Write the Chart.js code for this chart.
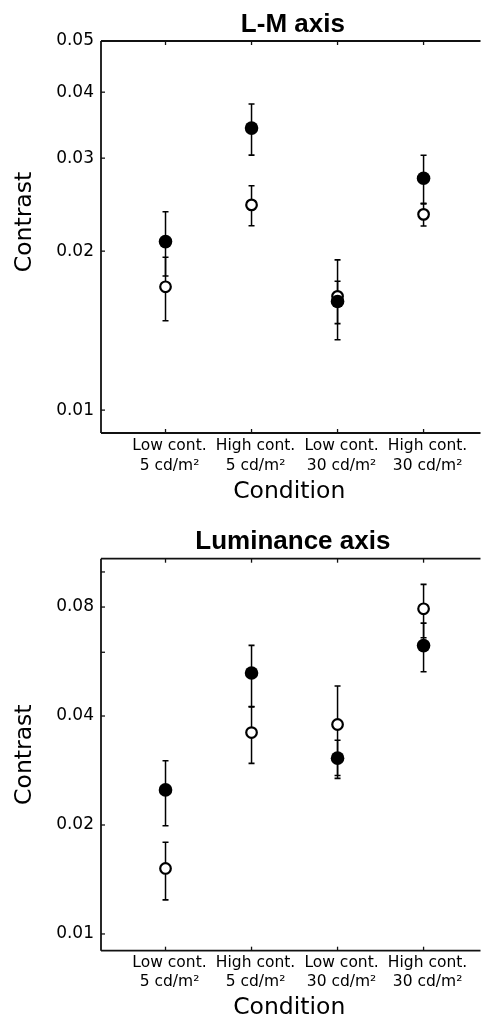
<!DOCTYPE html>
<html><head><meta charset="utf-8">
<script src="https://cdn.jsdelivr.net/npm/chart.js@4.4.0/dist/chart.umd.min.js"></script>
<style>
html,body{margin:0;padding:0;background:#fff;overflow:hidden;}
#c1{position:absolute;left:0;top:0;width:485px;height:506px;}
#c2{position:absolute;left:0;top:510px;width:485px;height:509px;}
</style></head><body>
<canvas id="c1" width="485" height="506"></canvas>
<canvas id="c2" width="485" height="509"></canvas>
<script>
// ---- data ----
const categories = [["Low cont.","5 cd/m²"],["High cont.","5 cd/m²"],["Low cont.","30 cd/m²"],["High cont.","30 cd/m²"]];
const catPositions = [1,2,3,4];

// L-M axis panel
const lmFilled    = [0.02085, 0.0342, 0.01606, 0.02748];
const lmFilledErr = [0.0029, 0.0038, 0.00148, 0.0029];
const lmOpen      = [0.01712, 0.02447, 0.01642, 0.02348];
const lmOpenErr   = [0.00236, 0.00213, 0.00283, 0.00117];
const lmTicks      = [0.01, 0.02, 0.03, 0.04, 0.05];
const lmTickLabels = ["0.01", "0.02", "0.03", "0.04", "0.05"];

// Luminance axis panel
const lumFilled    = [0.0250, 0.0526, 0.0306, 0.0626];
const lumFilledErr = [0.0051, 0.0101, 0.0037, 0.0096];
const lumOpen      = [0.01517, 0.0360, 0.0379, 0.0791];
const lumOpenErr   = [0.00275, 0.0064, 0.0105, 0.0133];
const lumTicks      = [0.01, 0.02, 0.04, 0.06, 0.08, 0.1];
const lumTickLabels = ["0.01", "0.02", "0.04", "", "0.08", ""];

// ---- rendering ----
const FONT = "'DejaVu Sans', sans-serif";
const TFONT = "'Liberation Sans', Arial, sans-serif";

const decor = {
  id: 'decor',
  beforeDatasetsDraw(chart) {
    const {ctx, scales: {x, y}} = chart;
    ctx.save(); ctx.strokeStyle = '#000';
    chart.data.datasets.forEach(ds => {
      ds.data.forEach((p, i) => {
        const e = ds.errors[i];
        const px = x.getPixelForValue(p.x);
        const y1 = y.getPixelForValue(p.y + e), y2 = y.getPixelForValue(p.y - e);
        ctx.lineWidth = 1.5;
        ctx.beginPath(); ctx.moveTo(px, y1); ctx.lineTo(px, y2); ctx.stroke();
        ctx.lineWidth = 1.6;
        ctx.beginPath();
        ctx.moveTo(px - 3, y1); ctx.lineTo(px + 3, y1);
        ctx.moveTo(px - 3, y2); ctx.lineTo(px + 3, y2);
        ctx.stroke();
      });
    });
    ctx.restore();
  },
  afterDraw(chart) {
    const {ctx, chartArea: a, scales: {x, y}} = chart;
    ctx.save(); ctx.strokeStyle = '#111'; ctx.lineWidth = 1.8;
    ctx.beginPath(); ctx.moveTo(a.right + 3, a.top); ctx.lineTo(a.left, a.top); ctx.stroke();
    ctx.beginPath(); ctx.moveTo(a.left, a.top); ctx.lineTo(a.left, a.bottom); ctx.stroke();
    ctx.beginPath(); ctx.moveTo(a.left, a.bottom); ctx.lineTo(a.right + 3, a.bottom); ctx.stroke();
    ctx.lineWidth = 1.3;
    x.ticks.forEach(t => {
      const px = x.getPixelForValue(t.value);
      ctx.beginPath(); ctx.moveTo(px, a.bottom); ctx.lineTo(px, a.bottom - 4); ctx.stroke();
      ctx.beginPath(); ctx.moveTo(px, a.top); ctx.lineTo(px, a.top + 4); ctx.stroke();
    });
    y.ticks.forEach(t => {
      const py = y.getPixelForValue(t.value);
      ctx.beginPath(); ctx.moveTo(a.left, py); ctx.lineTo(a.left + 4, py); ctx.stroke();
    });
    ctx.restore();
  }
};

function build(id, o) {
  new Chart(document.getElementById(id), {
    type: 'scatter',
    data: { datasets: [
      { label: 'filled', data: o.filled.map((v, i) => ({x: catPositions[i], y: v})), errors: o.filledErr,
        pointStyle: 'circle', pointRadius: 6.8, pointBorderWidth: 0, pointBackgroundColor: '#000', pointBorderColor: '#000' },
      { label: 'open', data: o.open.map((v, i) => ({x: catPositions[i], y: v})), errors: o.openErr,
        pointStyle: 'circle', pointRadius: 5.3, pointBorderWidth: 2.2, pointBackgroundColor: '#fff', pointBorderColor: '#000' } ] },
    options: {
      responsive: false, animation: false, devicePixelRatio: 1, events: [],
      layout: { padding: 0 },
      plugins: {
        legend: { display: false }, tooltip: { enabled: false },
        title: { display: true, fullSize: false, text: o.title, color: '#000',
          font: { family: TFONT, size: 26, weight: 'bold', lineHeight: 1.2 }, padding: o.titlePad }
      },
      scales: {
        x: { type: 'linear', min: 0.25, max: 4.627,
          afterBuildTicks: s => { s.ticks = catPositions.map(v => ({value: v})); },
          afterFit: s => { s.height = o.xHeight; s.paddingLeft = 0; s.paddingRight = 0; },
          grid: { display: false, drawTicks: false }, border: { display: false },
          ticks: { autoSkip: false, maxRotation: 0, minRotation: 0, color: '#000', padding: o.xTickPad,
            labelOffset: 4,
            font: { family: FONT, size: 15.5, lineHeight: 1.245 },
            callback: v => categories[catPositions.indexOf(v)] },
          title: { display: true, text: 'Condition', color: '#000',
            font: { family: FONT, size: 23.5, lineHeight: 1.2 }, padding: o.xTitlePad } },
        y: { type: 'logarithmic', min: o.ymin, max: o.ymax,
          afterBuildTicks: s => { s.ticks = o.ticks.map(v => ({value: v})); },
          afterFit: s => { s.width = 101; },
          grid: { display: false, drawTicks: false }, border: { display: false },
          ticks: { autoSkip: false, color: '#000', padding: 7, font: { family: FONT, size: 17 },
            callback: v => { const i = o.ticks.indexOf(v); return i >= 0 ? o.labels[i] : ''; } },
          title: { display: true, text: o.yTitle, color: '#000',
            font: { family: FONT, size: 23.5, lineHeight: 1.2 }, padding: { top: 11, bottom: 0 } } }
      }
    },
    plugins: [decor]
  });
}

build('c1', { title: ' L-M axis', titlePad: { top: 9.3, bottom: 0.5 }, yTitle: '    Contrast',
  filled: lmFilled, filledErr: lmFilledErr, open: lmOpen, openErr: lmOpenErr,
  ticks: lmTicks, labels: lmTickLabels, ymin: 0.00905, ymax: 0.05,
  xHeight: 73, xTickPad: 3.6, xTitlePad: { top: 0, bottom: 0 } });
build('c2', { title: ' Luminance axis', titlePad: { top: 16.2, bottom: 1.3 }, yTitle: 'Contrast',
  filled: lumFilled, filledErr: lumFilledErr, open: lumOpen, openErr: lumOpenErr,
  ticks: lumTicks, labels: lumTickLabels, ymin: 0.00899, ymax: 0.1088,
  xHeight: 68.3, xTickPad: 2.2, xTitlePad: { top: 0, bottom: -3.4 } });
</script>
</body></html>
